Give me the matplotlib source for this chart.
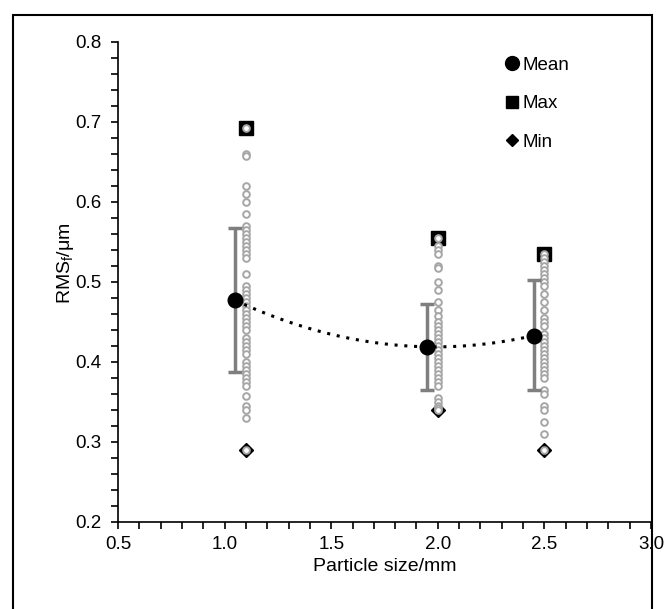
import numpy as np
import matplotlib
matplotlib.use('Agg')
import matplotlib.pyplot as plt
from matplotlib.patches import Rectangle

plt.rcParams['font.family'] = ['Liberation Sans', 'DejaVu Sans']

# particle sizes of the raw measurements
sizes = [1.1, 2.0, 2.5]

# raw RMS values per particle size
rms_11 = [0.692, 0.660, 0.658, 0.620, 0.610, 0.600, 0.585, 0.570, 0.565, 0.560,
          0.555, 0.550, 0.545, 0.540, 0.535, 0.530, 0.510, 0.495, 0.490, 0.485,
          0.480, 0.475, 0.470, 0.465, 0.460, 0.455, 0.450, 0.445, 0.440, 0.430,
          0.425, 0.420, 0.415, 0.410, 0.400, 0.395, 0.390, 0.385, 0.380, 0.375,
          0.370, 0.358, 0.345, 0.340, 0.330, 0.290]
rms_20 = [0.555, 0.545, 0.540, 0.535, 0.520, 0.518, 0.500, 0.490, 0.475, 0.465,
          0.458, 0.450, 0.445, 0.440, 0.435, 0.430, 0.425, 0.420, 0.415, 0.410,
          0.405, 0.400, 0.395, 0.390, 0.385, 0.380, 0.375, 0.370, 0.355, 0.350,
          0.345, 0.342, 0.340]
rms_25 = [0.535, 0.530, 0.525, 0.520, 0.515, 0.510, 0.505, 0.500, 0.495, 0.485,
          0.475, 0.465, 0.455, 0.450, 0.445, 0.435, 0.430, 0.425, 0.420, 0.415,
          0.410, 0.405, 0.400, 0.395, 0.390, 0.385, 0.380, 0.365, 0.360, 0.345,
          0.340, 0.325, 0.310, 0.290]

# summary statistics (plotted slightly left of the raw columns)
mean_x = [1.05, 1.95, 2.45]
mean_y = [0.477, 0.419, 0.433]
err_low = [0.387, 0.365, 0.365]
err_high = [0.567, 0.473, 0.502]
max_y = [0.692, 0.555, 0.535]
min_y = [0.290, 0.340, 0.290]

fig = plt.figure(figsize=(6.65, 6.09), dpi=100)
ax = fig.add_axes([118 / 665, 1 - 522 / 609, (651 - 118) / 665, (522 - 42) / 609])

# figure border
fig.patches.append(Rectangle((13 / 665, -0.01), (652 - 13) / 665, 1 - 15 / 609 + 0.01,
                             transform=fig.transFigure, fill=False,
                             edgecolor='black', linewidth=1.5, zorder=0))

# max / min markers sit under the raw circles
ax.plot(sizes, max_y, 's', color='black', markersize=9.5, zorder=2)
ax.plot(sizes, min_y, 'D', color='black', markersize=7, zorder=2)

for x, vals in zip(sizes, [rms_11, rms_20, rms_25]):
    ax.plot([x] * len(vals), vals, 'o', markerfacecolor='white',
            markeredgecolor='#a6a6a6', markeredgewidth=1.4, markersize=4.8,
            linestyle='none', zorder=3)

# error bars
lo = np.array(mean_y) - np.array(err_low)
hi = np.array(err_high) - np.array(mean_y)
ax.errorbar(mean_x, mean_y, yerr=[lo, hi], fmt='none', ecolor='#7f7f7f',
            elinewidth=2.5, capsize=5, capthick=2.5, zorder=4)

# polynomial trendline through the means
coef = np.polyfit(mean_x, mean_y, 2)
xs = np.linspace(mean_x[0], mean_x[-1], 200)
ax.plot(xs, np.polyval(coef, xs), color='black', linewidth=2.2,
        linestyle=(0, (1, 2.2)), zorder=5)

ax.plot(mean_x, mean_y, 'o', color='black', markersize=10.5, zorder=6)

# legend handles
h1, = ax.plot([], [], 'o', color='black', markersize=10)
h2, = ax.plot([], [], 's', color='black', markersize=9)
h3, = ax.plot([], [], 'D', color='black', markersize=6.5)
ax.legend([h1, h2, h3], ['Mean', 'Max', 'Min'], loc='upper left',
          bbox_to_anchor=(0.695, 1.005), frameon=False, fontsize=13.5,
          handlelength=0.7, handletextpad=0.2, labelspacing=1.15)

ax.set_xlim(0.5, 3.0)
ax.set_ylim(0.2, 0.8)
ax.set_xticks(np.arange(0.5, 3.01, 0.5))
ax.set_xticks(np.arange(0.5, 3.01, 0.1), minor=True)
ax.set_yticks(np.arange(0.2, 0.81, 0.1))
ax.set_yticks(np.arange(0.2, 0.81, 0.02), minor=True)
ax.xaxis.set_major_formatter(matplotlib.ticker.FormatStrFormatter('%.1f'))
ax.yaxis.set_major_formatter(matplotlib.ticker.FormatStrFormatter('%.1f'))

for side in ['top', 'right']:
    ax.spines[side].set_visible(False)
for side in ['left', 'bottom']:
    ax.spines[side].set_linewidth(1.2)
ax.tick_params(which='both', direction='out', length=5, width=1.2,
               labelsize=13.5, colors='black')
ax.tick_params(axis='x', pad=5)
ax.tick_params(axis='y', pad=7)

ax.set_xlabel('Particle size/mm', fontsize=14, labelpad=4)
ax.set_ylabel('RMS$_\\mathregular{f}$/\u03bcm', fontsize=14)
ax.yaxis.set_label_coords(-0.078, 0.54)

fig.savefig('out.png', dpi=100)
